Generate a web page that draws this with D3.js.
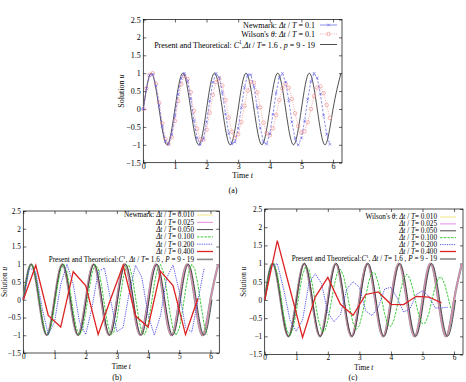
<!DOCTYPE html>
<html>
<head>
<meta charset="utf-8">
<script src="https://cdn.jsdelivr.net/npm/d3@7"></script>
<style>
  body { margin: 0; background: #fff; }
  text { font-family: "Liberation Serif", "Times New Roman", serif; fill: #000; }
</style>
</head>
<body>
<script>
// ---- data ----
const xMax = 6.2832;
const xTicks = [0, 1, 2, 3, 4, 5, 6];
const yTicks = [-1.5, -1, -0.5, 0, 0.5, 1, 1.5, 2, 2.5];

// theoretical / fine-step solutions: quarter-period key points
const theoT = [0, 0.25, 0.5, 0.75, 1, 1.25, 1.5, 1.75, 2, 2.25, 2.5, 2.75, 3, 3.25, 3.5, 3.75, 4, 4.25, 4.5, 4.75, 5, 5.25, 5.5, 5.75, 6, 6.25];
const theoU = [0, 1, 0, -1, 0, 1, 0, -1, 0, 1, 0, -1, 0, 1, 0, -1, 0, 1, 0, -1, 0, 1, 0, -1, 0, 1];
const fineT = [0, 0.252, 0.504, 0.756, 1.008, 1.26, 1.512, 1.764, 2.016, 2.268, 2.52, 2.772, 3.024, 3.276, 3.528, 3.78, 4.032, 4.284, 4.536, 4.788, 5.04, 5.292, 5.544, 5.796, 6.048];
const fineU = [0, 1, 0, -1, 0, 1, 0, -1, 0, 1, 0, -1, 0, 1, 0, -1, 0, 1, 0, -1, 0, 1, 0, -1, 0];

// step solutions, one value per time step
const newmark01 = [0, 0.572, 0.939, 0.967, 0.647, 0.094, -0.492, -0.903, -0.988, -0.716,
  -0.188, 0.408, 0.857, 0.998, 0.778, 0.280, -0.320, -0.806, -1.000, -0.834,
  -0.369, 0.229, 0.745, 0.993, 0.883, 0.456, -0.136, -0.678, -0.977, -0.923,
  -0.538, 0.042, 0.606, 0.952, 0.956, 0.615, 0.053, -0.529, -0.921, -0.979,
  -0.685, -0.147, 0.446, 0.878, 0.994, 0.752, 0.240, -0.360, -0.829, -1.000,
  -0.810, -0.330, 0.270, 0.772, 0.997, 0.863, 0.419, -0.177, -0.709, -0.985];
const wilson01 = [0, 0.581, 0.956, 1.001, 0.706, 0.178, -0.401, -0.837, -0.978, -0.788,
  -0.335, 0.223, 0.697, 0.926, 0.838, 0.468, -0.053, -0.548, -0.848, -0.857,
  -0.576, -0.104, 0.394, 0.751, 0.847, 0.655, 0.246, -0.241, -0.637, -0.810,
  -0.706, -0.366, 0.092, 0.512, 0.751, 0.731, 0.465, 0.046, -0.381, -0.673,
  -0.731, -0.543, -0.172, 0.249, 0.578, 0.706, 0.593, 0.282, -0.120, -0.475,
  -0.661, -0.621, -0.372, -0.002, 0.363, 0.599, 0.628, 0.444, 0.113, -0.250];
const newmark02 = [0, 0.90, 0.78, -0.22, -0.98, -0.63, 0.43, 1.00, 0.44, -0.62,
  -0.98, -0.23, 0.78, 0.90, 0.00, -0.90, -0.78, 0.22, 0.97, 0.63,
  -0.43, -1.00, -0.44, 0.62, 0.98, 0.23, -0.78, -0.91, -0.01, 0.90];
const wilson02 = [0, 0.92, 1.00, 0.30, -0.55, -0.86, -0.55, 0.45, 0.72, 0.45,
  -0.35, -0.60, -0.40, 0.30, 0.50, 0.35, -0.30, -0.43, -0.20, 0.30,
  0.35, 0.05, -0.33, -0.25, 0.15, 0.25, 0.10, -0.22, -0.22, -0.20];
const newmark04 = [0, 0.97, -0.44, -0.77, 0.79, 0.40, -0.98, 0.02, 0.97, -0.46, -0.77, 0.80, 0.40, -0.98, 0.04];
const wilson04 = [0, 1.63, 0.30, -1.03, 0.08, 0.62, -0.12, -0.42, 0.15, 0.22, -0.12, -0.13, 0.10, 0.08, -0.08];

const ratiosB = ["0.010", "0.025", "0.050", "0.100", "0.200", "0.400"];

// ---- drawing ----
const svg = d3.select("body").append("svg")
  .attr("width", 466).attr("height", 382);
svg.append("rect").attr("width", 466).attr("height", 382).attr("fill", "#fff");

const fmt = d3.format("~g");

function richText(g, x, y, segs, size, anchor) {
  const t = g.append("text").attr("x", x).attr("y", y)
    .attr("font-size", size).attr("text-anchor", anchor || "end");
  segs.forEach(s => {
    const sp = t.append("tspan").text(s.t);
    if (s.i) sp.attr("font-style", "italic");
    if (s.sup) sp.attr("font-size", size * 0.65).attr("dy", -size * 0.4);
    if (s.down) sp.attr("dy", size * 0.4);
  });
  return t;
}

function panel(box, fs) {
  const g = svg.append("g");
  const x = d3.scaleLinear().domain([0, xMax]).range([box.x0, box.x1]);
  const y = d3.scaleLinear().domain([-1.5, 2.5]).range([box.y1, box.y0]);

  const ax = [
    g.append("g").attr("transform", `translate(0,${box.y1})`)
      .call(d3.axisBottom(x).tickValues(xTicks).tickSize(-3).tickPadding(0.5).tickFormat(d3.format("d"))),
    g.append("g").attr("transform", `translate(0,${box.y0})`)
      .call(d3.axisTop(x).tickValues(xTicks).tickSize(-3).tickFormat("")),
    g.append("g").attr("transform", `translate(${box.x0},0)`)
      .call(d3.axisLeft(y).tickValues(yTicks).tickSize(-3).tickPadding(2.5).tickFormat(fmt)),
    g.append("g").attr("transform", `translate(${box.x1},0)`)
      .call(d3.axisRight(y).tickValues(yTicks).tickSize(-3).tickFormat(""))
  ];
  ax.forEach(a => {
    a.select(".domain").remove();
    a.attr("font-family", null).attr("font-size", fs);
    a.selectAll("line").attr("stroke", "#000").attr("stroke-width", 0.6);
  });
  g.append("rect").attr("x", box.x0).attr("y", box.y0)
    .attr("width", box.x1 - box.x0).attr("height", box.y1 - box.y0)
    .attr("fill", "none").attr("stroke", "#000").attr("stroke-width", 0.7);

  g.append("text").attr("x", (box.x0 + box.x1) / 2).attr("y", box.y1 + 15.5)
    .attr("font-size", fs).attr("text-anchor", "middle")
    .call(t => { t.append("tspan").text("Time "); t.append("tspan").attr("font-style", "italic").text("t"); });
  g.append("text").attr("transform", `translate(${box.ylab},${(box.y0 + box.y1) / 2}) rotate(-90)`)
    .attr("font-size", fs).attr("text-anchor", "middle").attr("dy", "0.35em")
    .call(t => { t.append("tspan").text("Solution "); t.append("tspan").attr("font-style", "italic").text("u"); });

  return { g, x, y };
}

function keyLine(p, ts, us, curve) {
  return d3.line().x((d, i) => p.x(ts[i])).y(d => p.y(d)).curve(curve || d3.curveNatural)(us);
}
function stepLine(p, vals, dt) {
  return d3.line().x((d, i) => p.x(i * dt)).y(d => p.y(d))(vals);
}

// ---------- (a) ----------
const A = panel({ x0: 143.3, x1: 342, y0: 19.5, y1: 162.7, ylab: 121 }, 8);
const blueA = "#5b5be8", pinkA = "#f08a8a";
A.g.append("path").attr("d", keyLine(A, theoT, theoU))
  .attr("fill", "none").attr("stroke", "#222").attr("stroke-width", 0.8);
A.g.append("path").attr("d", stepLine(A, wilson01, 0.1))
  .attr("fill", "none").attr("stroke", pinkA).attr("stroke-width", 0.7).attr("stroke-dasharray", "1,1.3");
A.g.append("g").selectAll("circle").data(wilson01).join("circle")
  .attr("cx", (d, i) => A.x(i * 0.1)).attr("cy", d => A.y(d)).attr("r", 1.8)
  .attr("fill", "none").attr("stroke", pinkA).attr("stroke-width", 0.6);
A.g.append("path").attr("d", stepLine(A, newmark01, 0.1))
  .attr("fill", "none").attr("stroke", blueA).attr("stroke-width", 0.7).attr("stroke-dasharray", "2.5,1.5");
A.g.append("g").selectAll("path").data(newmark01).join("path")
  .attr("d", (d, i) => { const cx = A.x(i * 0.1), cy = A.y(d), s = 1.3;
    return `M${cx - s},${cy - s}L${cx + s},${cy + s}M${cx - s},${cy + s}L${cx + s},${cy - s}`; })
  .attr("stroke", blueA).attr("stroke-width", 0.6);

// legend (a)
const legA = A.g.append("g");
richText(legA, 315, 28, [{ t: "Newmark: " }, { t: "Δt", i: 1 }, { t: " / " }, { t: "T", i: 1 }, { t: " = 0.1" }], 8);
richText(legA, 315, 37, [{ t: "Wilson's  " }, { t: "θ", i: 1 }, { t: ": " }, { t: "Δt", i: 1 }, { t: " / " }, { t: "T", i: 1 }, { t: " = 0.1" }], 8);
richText(legA, 315, 47.5, [{ t: "Present and Theoretical: " }, { t: "C", i: 1 }, { t: "1", sup: 1 }, { t: ",", down: 1 },
  { t: "Δt", i: 1 }, { t: " / " }, { t: "T", i: 1 }, { t: "= 1.6 , " }, { t: "p", i: 1 }, { t: " = 9 - 19" }], 8);
legA.append("line").attr("x1", 320).attr("x2", 337).attr("y1", 25).attr("y2", 25)
  .attr("stroke", blueA).attr("stroke-width", 0.7);
legA.append("path").attr("d", "M327.2,23.7L329.8,26.3M327.2,26.3L329.8,23.7").attr("stroke", blueA).attr("stroke-width", 0.6);
legA.append("line").attr("x1", 320).attr("x2", 337).attr("y1", 34).attr("y2", 34)
  .attr("stroke", pinkA).attr("stroke-width", 0.7).attr("stroke-dasharray", "1,1.3");
legA.append("circle").attr("cx", 328.5).attr("cy", 34).attr("r", 1.8).attr("fill", "none").attr("stroke", pinkA).attr("stroke-width", 0.6);
legA.append("line").attr("x1", 320).attr("x2", 337).attr("y1", 44.5).attr("y2", 44.5)
  .attr("stroke", "#222").attr("stroke-width", 0.8);

svg.append("text").attr("x", 233).attr("y", 193).attr("font-size", 8).attr("text-anchor", "middle").text("(a)");

// ---------- (b) and (c) ----------
const styles = [
  { c: "#eedd66", w: 0.8, dash: null },
  { c: "#e070e0", w: 0.8, dash: null },
  { c: "#333333", w: 0.9, dash: null },
  { c: "#22c422", w: 0.9, dash: "2.5,1.2" },
  { c: "#4b4be6", w: 0.9, dash: "1.3,1" },
  { c: "#dd2222", w: 1.3, dash: null }
];
const theoStyle = { c: "#8a8a8a", w: 2.2, dash: null };

function drawSet(p, s01, s02, s04) {
  const add = (d, st) => p.g.append("path").attr("d", d).attr("fill", "none")
    .attr("stroke", st.c).attr("stroke-width", st.w).attr("stroke-dasharray", st.dash);
  add(keyLine(p, theoT, theoU), theoStyle);
  add(keyLine(p, theoT, theoU), styles[0]);
  add(keyLine(p, theoT, theoU), styles[1]);
  add(keyLine(p, fineT, fineU), styles[2]);
  add(stepLine(p, s01, 0.1), styles[3]);
  add(stepLine(p, s02, 0.2), styles[4]);
  add(stepLine(p, s04, 0.4), styles[5]);
}

function legendBC(p, xr, y0, dy, first, fs) {
  const lg = p.g.append("g");
  ratiosB.forEach((r, i) => {
    const segs = (i === 0 ? first : []).concat([{ t: "Δt", i: 1 }, { t: " / " }, { t: "T", i: 1 }, { t: "= " + r }]);
    richText(lg, xr, y0 + i * dy + 2.3, segs, fs);
    lg.append("line").attr("x1", xr + 3).attr("x2", xr + 19).attr("y1", y0 + i * dy).attr("y2", y0 + i * dy)
      .attr("stroke", styles[i].c).attr("stroke-width", styles[i].w).attr("stroke-dasharray", styles[i].dash);
  });
  const yl = y0 + 6 * dy + 0.6;
  richText(lg, xr, yl + 2.3, [{ t: "Present and Theoretical:" }, { t: "C", i: 1 }, { t: "1", sup: 1 }, { t: ", ", down: 1 },
    { t: "Δt", i: 1 }, { t: " / " }, { t: "T", i: 1 }, { t: "= 1.6 , " }, { t: "P", i: 1 }, { t: " = 9 - 19" }], fs);
  lg.append("line").attr("x1", xr + 3).attr("x2", xr + 19).attr("y1", yl).attr("y2", yl)
    .attr("stroke", theoStyle.c).attr("stroke-width", 1.6);
}

const B = panel({ x0: 23.3, x1: 219.3, y0: 211, y1: 353, ylab: 4.5 }, 7.3);
drawSet(B, newmark01, newmark02, newmark04);
legendBC(B, 194, 215, 7.3, [{ t: "Newmark: " }], 7.2);
svg.append("text").attr("x", 117).attr("y", 380).attr("font-size", 8).attr("text-anchor", "middle").text("(b)");

const C = panel({ x0: 264.7, x1: 463, y0: 209, y1: 354.5, ylab: 243 }, 7.3);
drawSet(C, wilson01, wilson02, wilson04);
legendBC(C, 437, 217, 6.9, [{ t: "Wilson's  " }, { t: "θ", i: 1 }, { t: ": " }], 7.2);
svg.append("text").attr("x", 353).attr("y", 380).attr("font-size", 8).attr("text-anchor", "middle").text("(c)");
</script>
</body>
</html>
